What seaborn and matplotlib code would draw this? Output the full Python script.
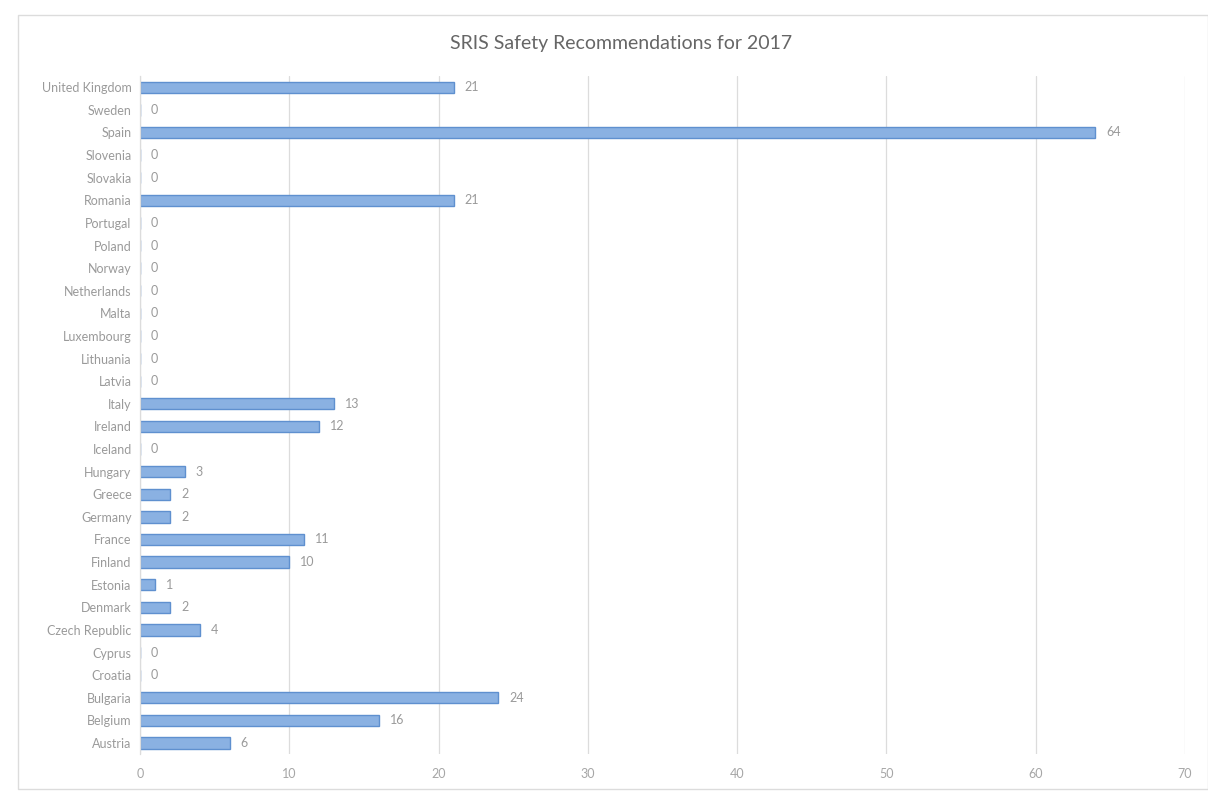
import matplotlib
matplotlib.use("Agg")
import matplotlib.pyplot as plt
import seaborn as sns
import pandas as pd
from matplotlib.patches import Rectangle

countries = ["United Kingdom", "Sweden", "Spain", "Slovenia", "Slovakia", "Romania",
             "Portugal", "Poland", "Norway", "Netherlands", "Malta", "Luxembourg",
             "Lithuania", "Latvia", "Italy", "Ireland", "Iceland", "Hungary", "Greece",
             "Germany", "France", "Finland", "Estonia", "Denmark", "Czech Republic",
             "Cyprus", "Croatia", "Bulgaria", "Belgium", "Austria"]
values = [21, 0, 64, 0, 0, 21, 0, 0, 0, 0, 0, 0, 0, 0, 13, 12, 0, 3, 2, 2, 11, 10,
          1, 2, 4, 0, 0, 24, 16, 6]
x_ticks = [0, 10, 20, 30, 40, 50, 60, 70]
title = "SRIS Safety Recommendations for 2017"

df = pd.DataFrame({"country": countries, "value": values})

sns.set_theme(style="white")
plt.rcParams["font.family"] = ["Lato", "DejaVu Sans"]

fig = plt.figure(figsize=(12.08, 7.91), dpi=100)
ax = fig.add_axes([0.1159, 0.0464, 0.8651, 0.8576])

sns.barplot(data=df, y="country", x="value", order=countries, orient="h",
            color="#8ab1e2", edgecolor="#5f90cf", linewidth=1.0, width=0.5,
            saturation=1, ax=ax)

ax.set_xlim(0, 70)
ax.set_xticks(x_ticks)
ax.set_xticklabels([str(t) for t in x_ticks], color="#a6a6a6", fontsize=9)
ax.tick_params(axis="y", labelsize=9, labelcolor="#9a9a9a", length=0, pad=6)
ax.tick_params(axis="x", length=0, pad=10)
ax.set_xlabel("")
ax.set_ylabel("")
ax.grid(axis="x", color="#dcdcdc", linewidth=0.9)
ax.set_axisbelow(True)
for s in ["top", "right", "bottom"]:
    ax.spines[s].set_visible(False)
ax.spines["left"].set_color("#dcdcdc")
ax.spines["left"].set_linewidth(0.9)

for cont in ax.containers:
    ax.bar_label(cont, labels=[str(v) for v in values], padding=8,
                 color="#9a9a9a", fontsize=9)

fig.text(0.5145, 0.945, title, ha="center", va="center", fontsize=14, color="#666666")

fig.patches.append(Rectangle((0.015, 0.003), 0.985, 0.978, transform=fig.transFigure,
                             fill=False, edgecolor="#dcdcdc", linewidth=1.0))

fig.savefig("out.png", dpi=100, facecolor="white")
